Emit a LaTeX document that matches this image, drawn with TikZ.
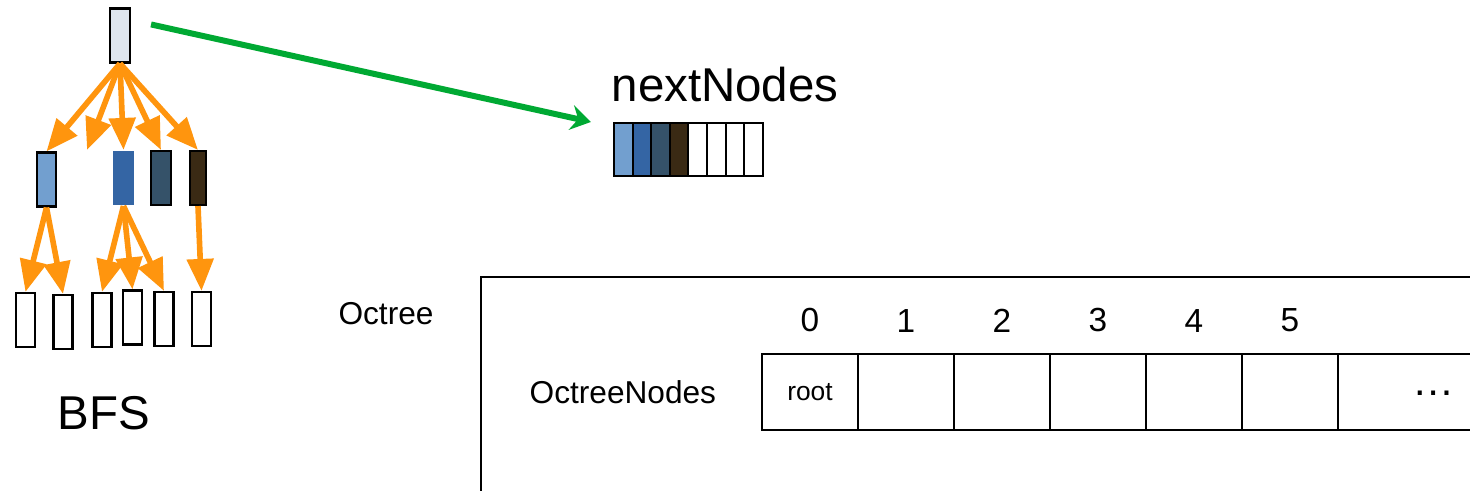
\documentclass[tikz,border=0pt]{standalone}
\usepackage{fontspec}
\setmainfont{Liberation Sans}
\usetikzlibrary{calc,arrows.meta,positioning}

\definecolor{bfsorange}{HTML}{FF950E}
\definecolor{ptrgreen}{HTML}{00A933}
\definecolor{rootgray}{HTML}{DEE6EF}
\definecolor{lightblue}{HTML}{729FCF}
\definecolor{midblue}{HTML}{3465A4}
\definecolor{slateblue}{HTML}{355269}
\definecolor{darkbrown}{HTML}{3A2A14}

\begin{document}
\begin{tikzpicture}[x=0.1mm,y=-0.1mm,
    tnode/.style={draw,line width=0.6pt,minimum width=0.2cm,
                  minimum height=0.54cm,inner sep=0pt},
    cell/.style={draw,line width=0.6pt,minimum width=0.186cm,
                 minimum height=0.53cm,inner sep=0pt},
    slot/.style={draw,line width=0.7pt,minimum width=0.96cm,
                 minimum height=0.76cm,inner sep=0pt,
                 font=\fontsize{7.5}{9}\selectfont},
    idx/.style={inner sep=0pt,font=\fontsize{9.5}{11}\selectfont},
    txt/.style={inner sep=0pt,font=\fontsize{9}{11}\selectfont},
    big/.style={inner sep=0pt,font=\fontsize{13.5}{16}\selectfont},
    oarr/.style={bfsorange,line width=1.6pt,
                 -{Triangle[length=3.2mm,width=2.6mm]}},
    garr/.style={ptrgreen,line width=1.7pt,
                 -{Stealth[length=2mm,width=2.5mm,inset=0.7mm]}},
]

\useasboundingbox (0,0) rectangle (1470,490);

% ---- BFS tree --------------------------------------------------------------
\node[tnode,fill=rootgray] (root) at (120,35.5) {};

\node[tnode,fill=lightblue,minimum width=0.19cm] (A) at (46.5,179.5) {};
\node[tnode,fill=midblue,draw=none,minimum width=0.21cm] (B) at (123.5,178) {};
\node[tnode,fill=slateblue] (C) at (161,178) {};
\node[tnode,fill=darkbrown,minimum width=0.16cm] (D) at (198,178) {};
\coordinate (gap) at (87,150);

\foreach \n/\x/\y in {1/25.5/320, 2/63/322, 3/102/320,
                      4/132.5/317.5, 5/164/319, 6/201.5/319}
    \node[tnode,minimum width=0.19cm] (L\n) at (\x,\y) {};

\node[big] (bfs) at (104,413) {BFS};

% ---- Orange BFS arrows -----------------------------------------------------
\foreach \t in {A.north,gap,B.north,C.north,D.north}
    \draw[oarr] (root.south) -- (\t);
\draw[oarr] (A.south) -- (L1.north);
\draw[oarr] (A.south) -- (L2.north);
\draw[oarr] (B.south) -- (L3.north);
\draw[oarr] (B.south) -- (L4.north);
\draw[oarr] (B.south) -- (L5.north);
\draw[oarr] (D.south) -- (L6.north);

% ---- nextNodes array -------------------------------------------------------
\foreach \c [count=\i from 0] in {lightblue,midblue,slateblue,darkbrown,
                                  white,white,white,white}
    \node[cell,fill=\c] (n\i) at ({623.3+18.6*\i},149.5) {};
\node[big,above right=0.19cm and -0.02cm of n0.north west] (nlabel) {nextNodes};

% ---- Green pointer ---------------------------------------------------------
\coordinate (gs) at ($(root.north east)+(20,17)$);
\coordinate (ge) at ($(n0.north west)+(-22,0)$);
\draw[garr] (gs) -- (ge);

% ---- Octree ----------------------------------------------------------------
\node[txt] (octree) at (386,314) {Octree};
\draw[line width=0.8pt] (481,277) rectangle (1560,560);

\node[slot] (o0) at (810,392) {root};
\foreach \i in {1,...,5}
    \node[slot] (o\i) at ({810+96*\i},392) {};
\node[slot,minimum width=2cm] (orest) at (1438,392) {};
\node[font=\fontsize{12}{14}\selectfont,inner sep=0pt] (dots) at (1434,393) {\dots};
\foreach \i in {0,...,5}
    \node[idx,above=0.2cm of o\i] {\i};
\node[txt,left=0.44cm of o0] (onodes) {OctreeNodes};

\end{tikzpicture}
\end{document}
